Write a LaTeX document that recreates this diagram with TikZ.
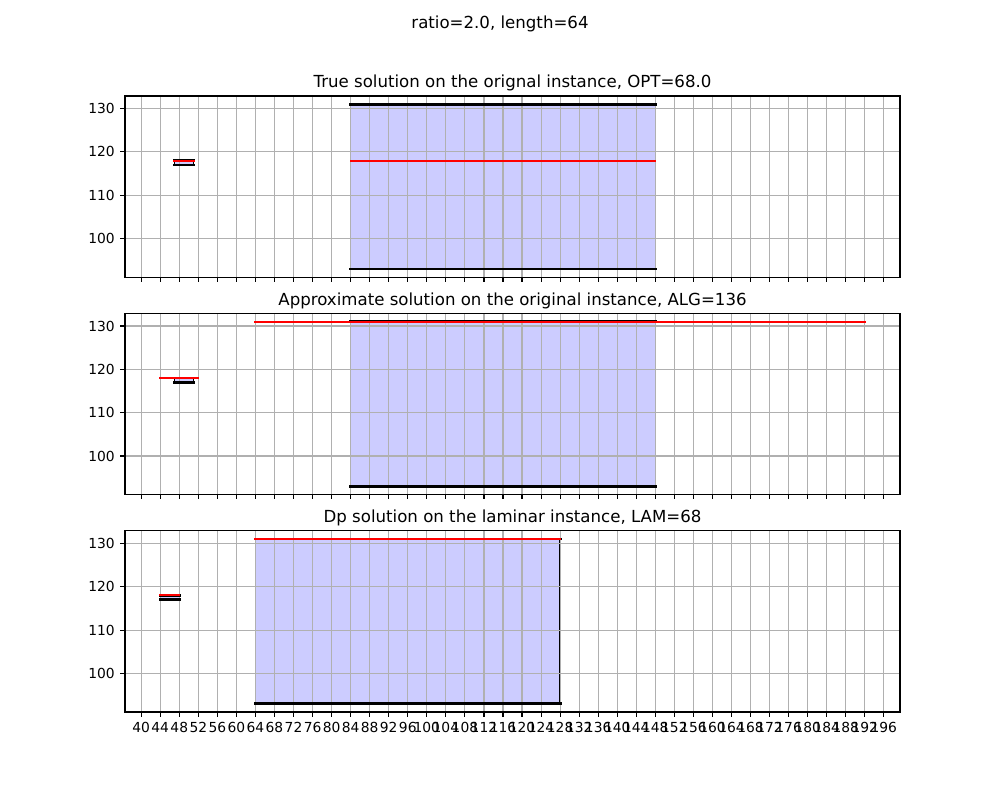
\documentclass[tikz,border=0pt]{standalone}
\usepackage{fontspec}
\setmainfont{DejaVu Sans}
\definecolor{gridgray}{HTML}{B0B0B0}
\definecolor{boxblue}{HTML}{CCCCFF}
\tikzset{
  panel/.style={x=3.4404pt, y=3.1325pt, xshift={(125-36.6*4.7604)*0.7227pt}, yshift={(#1-91.1*4.3344)*0.7227pt}},
  gridline/.style={draw=gridgray, line width=0.8pt},
  axframe/.style={draw=black, line width=0.8pt},
  boxpatch/.style={fill=boxblue, draw=black, line width=1pt},
  edgeline/.style={draw=black, line width=2pt, line cap=rect},
  solline/.style={draw=red, line width=1.5pt, line cap=rect},
  ticklabel/.style={font=\fontsize{10}{12}\selectfont, inner sep=0pt},
  titlelabel/.style={font=\fontsize{12}{14}\selectfont, inner sep=0pt}
}
\newcommand{\panelgrid}{%
  \foreach \x in {40,44,...,196} \draw[gridline] (\x,91.1) -- (\x,132.9);
  \foreach \y in {100,110,120,130} \draw[gridline] (36.6,\y) -- (199.4,\y);
}
\newcommand{\panelframe}[2]{%
  \draw[axframe] (36.6,91.1) rectangle (199.4,132.9);
  \foreach \x in {40,44,...,196} \draw[axframe] (\x,91.1) -- ++(0,-3.5pt);
  \foreach \y in {100,110,120,130}
  \draw[axframe] (36.6,\y) -- ++(-3.5pt,0) node [left=3.5pt, ticklabel] (#1y\y) {\y};
  \node[titlelabel, anchor=base, yshift=6pt] (#1) at (118,132.9) {#2};
}

\begin{document}
\begin{tikzpicture}[x=0.7227pt, y=0.7227pt]
\useasboundingbox (0,0) rectangle (1000,800);
\node[titlelabel, anchor=north] (sup) at (500,784) {ratio=2.0, length=64};

\begin{scope}[panel=522.82]
\filldraw[boxpatch] (47,117) rectangle (51,118);
\filldraw[boxpatch] (84,93) rectangle (148,131);
\panelgrid
\draw[edgeline] (47,117) -- (51,117);
\draw[edgeline] (47,118) -- (51,118);
\draw[edgeline] (84,93) -- (148,93);
\draw[edgeline] (84,131) -- (148,131);
\draw[solline] (47,118) -- (51,118);
\draw[solline] (84,118) -- (148,118);
\panelframe{opt}{True solution on the orignal instance, OPT=68.0}
\end{scope}

\begin{scope}[panel=305.41]
\filldraw[boxpatch] (47,117) rectangle (51,118);
\filldraw[boxpatch] (84,93) rectangle (148,131);
\panelgrid
\draw[edgeline] (47,117) -- (51,117);
\draw[edgeline] (47,118) -- (51,118);
\draw[edgeline] (84,93) -- (148,93);
\draw[edgeline] (84,131) -- (148,131);
\draw[solline] (44,118) -- (52,118);
\draw[solline] (64,131) -- (192,131);
\panelframe{alg}{Approximate solution on the original instance, ALG=136}
\end{scope}

\begin{scope}[panel=88]
\filldraw[boxpatch] (44,117) rectangle (48,118);
\filldraw[boxpatch] (64,93) rectangle (128,131);
\panelgrid
\draw[edgeline] (44,117) -- (48,117);
\draw[edgeline] (44,118) -- (48,118);
\draw[edgeline] (64,93) -- (128,93);
\draw[edgeline] (64,131) -- (128,131);
\draw[solline] (44,118) -- (48,118);
\draw[solline] (64,131) -- (128,131);
\foreach \x in {40,44,...,196}
\node[below=7pt, ticklabel] (lamx\x) at (\x,91.1) {\x};
\panelframe{lam}{Dp solution on the laminar instance, LAM=68}
\end{scope}
\end{tikzpicture}
\end{document}
